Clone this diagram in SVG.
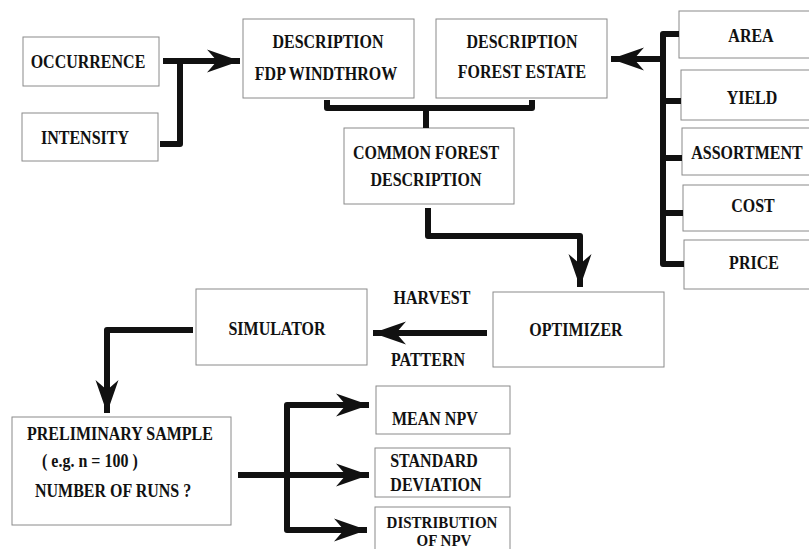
<svg xmlns="http://www.w3.org/2000/svg" width="809" height="549" viewBox="0 0 809 549">
<style>
.box{fill:#fff;stroke:#8a8a8a;stroke-width:1}
.t{font-family:"Liberation Serif","Times New Roman",serif;font-weight:bold;font-size:16px;fill:#111;text-anchor:middle;transform-box:fill-box;transform-origin:50% 78%;transform:scaleY(1.15)}
.ts{text-anchor:start}
.tn{font-size:15px;transform:scaleY(1.1)}
.c{fill:none;stroke:#111;stroke-width:6;stroke-linejoin:round}
</style>
<defs>
<marker id="ah" markerUnits="userSpaceOnUse" markerWidth="34" markerHeight="26" viewBox="-33 -13 34 26" refX="0" refY="0" orient="auto">
<path d="M0,0 L-33,-11.5 L-23,0 L-33,11.5 Z" fill="#111"/>
</marker>
</defs>
<rect width="809" height="549" fill="#fff"/>
<g id="occurrence"><rect class="box" x="23" y="37" width="136" height="49"/><text class="t" x="88" y="68">OCCURRENCE</text></g>
<g id="intensity"><rect class="box" x="22" y="113" width="136" height="48"/><text class="t" x="85" y="144">INTENSITY</text></g>
<g id="fdp"><rect class="box" x="243" y="19" width="171" height="79"/><text class="t" x="328" y="48">DESCRIPTION</text><text class="t" x="326" y="80">FDP WINDTHROW</text></g>
<g id="estate"><rect class="box" x="436" y="19" width="171" height="79"/><text class="t" x="522" y="48">DESCRIPTION</text><text class="t" x="522" y="78">FOREST ESTATE</text></g>
<g id="common"><rect class="box" x="344" y="128" width="170" height="76"/><text class="t" x="426" y="159">COMMON FOREST</text><text class="t" x="426" y="186">DESCRIPTION</text></g>
<g id="area"><rect class="box" x="679" y="11" width="135" height="47"/><text class="t" x="751" y="42">AREA</text></g>
<g id="yield"><rect class="box" x="681" y="70" width="133" height="50"/><text class="t" x="752" y="104">YIELD</text></g>
<g id="assortment"><rect class="box" x="682" y="128" width="132" height="47"/><text class="t" x="747" y="159">ASSORTMENT</text></g>
<g id="cost"><rect class="box" x="683" y="185" width="131" height="46"/><text class="t" x="753" y="212">COST</text></g>
<g id="price"><rect class="box" x="684" y="240" width="130" height="49"/><text class="t" x="754" y="269">PRICE</text></g>
<g id="simulator"><rect class="box" x="196" y="289" width="171" height="76"/><text class="t" x="277" y="335">SIMULATOR</text></g>
<g id="optimizer"><rect class="box" x="493" y="292" width="171" height="75"/><text class="t" x="576" y="336">OPTIMIZER</text></g>
<g id="preliminary"><rect class="box" x="12" y="417" width="219" height="108"/><text class="t ts" x="27" y="440">PRELIMINARY SAMPLE</text><text class="t ts" x="42" y="467">( e.g. n = 100 )</text><text class="t ts" x="35" y="497">NUMBER OF RUNS ?</text></g>
<g id="mean"><rect class="box" x="376" y="386" width="134" height="48"/><text class="t ts" x="392" y="425">MEAN NPV</text></g>
<g id="std"><rect class="box" x="375" y="448" width="135" height="49"/><text class="t" x="434" y="467">STANDARD</text><text class="t" x="436" y="491">DEVIATION</text></g>
<g id="dist"><rect class="box" x="375" y="507" width="135" height="50"/><text class="t tn" x="442" y="528">DISTRIBUTION</text><text class="t tn" x="444" y="546">OF NPV</text></g>
<g id="connectors">
<path class="c" d="M163,61 H180 V144 H160"/>
<path class="c" d="M180,61 H240" marker-end="url(#ah)"/>
<path class="c" d="M327,100 V108 H532 V100"/>
<path class="c" d="M426,108 V128"/>
<path class="c" d="M679,34 H663 V264 H684"/>
<path class="c" d="M663,101 H681 M663,158 H682 M663,213 H683"/>
<path class="c" d="M663,59 H611" marker-end="url(#ah)"/>
<path class="c" d="M428,208 V236 H580 V287" marker-end="url(#ah)"/>
<path class="c" d="M487,333 H373" marker-end="url(#ah)"/>
<path class="c" d="M193,330 H107 V413" marker-end="url(#ah)"/>
<path class="c" d="M238,475 H369" marker-end="url(#ah)"/>
<path class="c" d="M369,405 H287 V530 H367" marker-end="url(#ah)"/>
<path class="c" d="M287,405 H369" marker-end="url(#ah)"/>
</g>
<text class="t" x="432" y="304">HARVEST</text>
<text class="t" x="428" y="366">PATTERN</text>
</svg>
